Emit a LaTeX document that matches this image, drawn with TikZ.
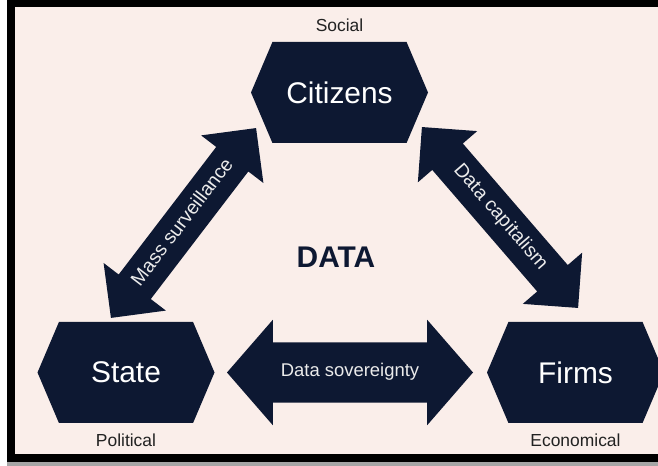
\documentclass[tikz,border=0pt]{standalone}
\usepackage{fontspec}
\setmainfont{Liberation Sans}
\usetikzlibrary{positioning,shapes.symbols,shapes.arrows}

\definecolor{navy}{HTML}{0D1832}
\definecolor{paper}{HTML}{FAEEEA}
\definecolor{ink}{HTML}{222222}

\tikzset{
 sector/.style={signal, signal to=west and east, signal pointer angle=134,
   fill=navy, text=white, inner sep=0pt, minimum width=177bp, minimum height=101bp,
   font=\fontsize{30}{36}\selectfont},
 sectorlabel/.style={text=ink, inner sep=0pt, font=\fontsize{17.5}{21}\selectfont},
 flow/.style={double arrow, fill=navy, text=white!92!black, inner xsep=0pt,
   text height=13bp, text depth=4bp, font=\fontsize{19.5}{23}\selectfont}
}

\begin{document}
\begin{tikzpicture}[x=1bp,y=1bp]
 \useasboundingbox (0,0) rectangle (658,466);
 % frame, open on the right
 \fill[white] (0,0) rectangle (680,466);
 \fill[gray!70] (7,0) rectangle (680,4);
 \fill[black] (7,4) rectangle (680,466);
 \fill[paper] (15,12) rectangle (680,459);

 % sectors
 \node[sector] (citizens) at (339.5,373.5) {Citizens};
 \node[sector] (state) at (126,93.5) {State};
 \node[sector] (firms) at (575.5,93.5) {Firms};
 \node[sectorlabel] (social) [above=10bp of citizens] {Social};
 \node[sectorlabel] (political) [below=10bp of state] {Political};
 \node[sectorlabel] (economical) [below=10bp of firms] {Economical};

 \node (data) at (336,209) [text=navy, font=\fontsize{30}{36}\selectfont\bfseries] {DATA};

 % flows between the sectors
 \node[flow, rotate=52.6, minimum height=239bp, minimum width=78bp,
   double arrow head extend=19bp, double arrow tip angle=90, inner ysep=11.5bp]
   (surveillance) at (183.5,243) {Mass surveillance};
 \node[flow, rotate=-49.2, minimum height=239bp, minimum width=78bp,
   double arrow head extend=19bp, double arrow tip angle=90, inner ysep=11.5bp]
   (capitalism) at (500,248.5) {Data capitalism};
 \node[flow, minimum height=246bp, minimum width=105bp, font=\fontsize{18.5}{22}\selectfont,
   double arrow head extend=22.5bp, double arrow tip angle=98, inner ysep=21.5bp]
   (sovereignty) at (350,93.5) {Data sovereignty};
\end{tikzpicture}
\end{document}
